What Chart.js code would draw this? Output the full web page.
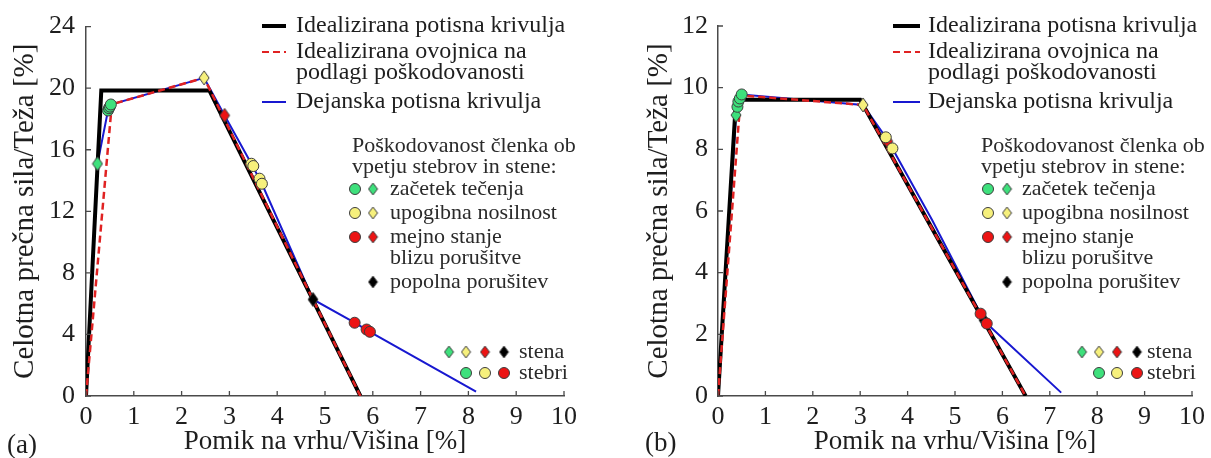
<!DOCTYPE html>
<html lang="sl">
<head>
<meta charset="utf-8">
<title>Potisne krivulje</title>
<script src="https://cdn.jsdelivr.net/npm/chart.js@4.4.1/dist/chart.umd.min.js"></script>
<style>
  html, body { margin: 0; padding: 0; background: #fff; font-family: "Liberation Serif"; }
  #wrap { display: flex; width: 1211px; height: 458px; overflow: hidden; }
  canvas { display: block; }
</style>
</head>
<body>
<div id="wrap">
  <canvas id="grafA" width="605" height="458"></canvas>
  <canvas id="grafB" width="606" height="458"></canvas>
</div>
<script>
// tick labels
const xTicks = [0, 1, 2, 3, 4, 5, 6, 7, 8, 9, 10];
const yTicksA = [0, 4, 8, 12, 16, 20, 24];
const yTicksB = [0, 2, 4, 6, 8, 10, 12];

// (a) krivulje
const idealA_x = [0, 0.32, 2.58, 5.74];
const idealA_y = [0, 19.85, 19.85, 0];
const envA_x = [0, 0.54, 2.47, 5.74];
const envA_y = [0, 18.95, 20.67, 0];
const actualA_x = [0, 0.24, 0.46, 0.52, 2.47, 2.90, 3.46, 3.68, 4.75, 5.62, 5.94, 8.16];
const actualA_y = [0, 15.09, 18.55, 18.94, 20.67, 18.23, 15.09, 13.79, 6.27, 4.76, 4.17, 0.28];

// (a) poškodovanost členkov
const wallYieldA_x = [0.24], wallYieldA_y = [15.09];
const colYieldA_x = [0.46, 0.48, 0.50, 0.52], colYieldA_y = [18.55, 18.70, 18.80, 18.94];
const wallFlexA_x = [2.47], wallFlexA_y = [20.67];
const colFlexA_x = [3.46, 3.50, 3.63, 3.68], colFlexA_y = [15.09, 14.94, 14.12, 13.79];
const wallNCA_x = [2.90], wallNCA_y = [18.23];
const colNCA_x = [5.62, 5.87, 5.94], colNCA_y = [4.76, 4.32, 4.17];
const wallColA_x = [4.75], wallColA_y = [6.27];

// (b) krivulje
const idealB_x = [0, 0.38, 3.00, 6.49];
const idealB_y = [0, 9.61, 9.61, 0];
const envB_x = [0, 0.48, 3.06, 6.49];
const envB_y = [0, 9.75, 9.44, 0];
const actualB_x = [0, 0.38, 0.41, 0.43, 0.50, 3.06, 3.54, 3.68, 4.52, 5.54, 5.61, 5.67, 7.24];
const actualB_y = [0, 9.11, 9.38, 9.55, 9.78, 9.44, 8.39, 8.03, 5.70, 2.67, 2.46, 2.35, 0.11];

// (b) poškodovanost členkov
const wallYieldB_x = [0.38], wallYieldB_y = [9.11];
const colYieldB_x = [0.41, 0.43, 0.46, 0.50], colYieldB_y = [9.38, 9.55, 9.65, 9.78];
const wallFlexB_x = [3.06], wallFlexB_y = [9.44];
const colFlexB_x = [3.54, 3.68], colFlexB_y = [8.39, 8.03];
const wallNCB_x = [3.58], wallNCB_y = [8.26];
const colNCB_x = [5.54, 5.67], colNCB_y = [2.67, 2.35];
const wallColB_x = [5.61], wallColB_y = [2.46];

const SERIF = '"Liberation Serif"';
const TEXT = '#1e1e1e';
const AXIS = '#4a4a4a';
const GREEN = '#3ee07c';
const YELLOW = '#f6f07c';
const RED = '#ec1414';
const BLACK = '#000000';
const BLUE = '#1818d0';
const DASHRED = '#e02222';

const pts = (xs, ys) => xs.map((x, i) => ({ x: x, y: ys[i] }));

// diamond marker drawn once into a small canvas
function diamond(fill, w, h) {
  const c = document.createElement('canvas');
  c.width = w + 2;
  c.height = h + 2;
  const g = c.getContext('2d');
  g.beginPath();
  g.moveTo(c.width / 2, 1);
  g.lineTo(c.width - 1, c.height / 2);
  g.lineTo(c.width / 2, c.height - 1);
  g.lineTo(1, c.height / 2);
  g.closePath();
  g.fillStyle = fill;
  g.fill();
  g.lineWidth = 1;
  g.strokeStyle = '#3a3a3a';
  g.stroke();
  return c;
}

const dia = {
  green: diamond(GREEN, 10, 14), yellow: diamond(YELLOW, 10, 14),
  red: diamond(RED, 10, 14), black: diamond(BLACK, 10, 14)
};
const diaKey = {
  green: diamond(GREEN, 9, 12), yellow: diamond(YELLOW, 9, 12),
  red: diamond(RED, 9, 12), black: diamond(BLACK, 9, 12)
};

function lineDs(xs, ys, color, width, dash, order) {
  return {
    data: pts(xs, ys), showLine: true, fill: false, tension: 0,
    borderColor: color, borderWidth: width, borderDash: dash,
    pointRadius: 0, order: order
  };
}

function circleDs(xs, ys, fill) {
  return {
    data: pts(xs, ys), showLine: false, pointStyle: 'circle',
    pointRadius: 5.5, pointBorderWidth: 1, pointBorderColor: '#3c3c3c',
    pointBackgroundColor: fill, order: 0
  };
}

function diamondDs(xs, ys, img) {
  return { data: pts(xs, ys), showLine: false, pointStyle: img, pointRadius: 6, order: 0 };
}

function keyCircle(ctx, x, y, fill) {
  ctx.beginPath();
  ctx.arc(x, y, 5.5, 0, Math.PI * 2);
  ctx.fillStyle = fill;
  ctx.fill();
  ctx.lineWidth = 1;
  ctx.strokeStyle = '#3c3c3c';
  ctx.stroke();
}

function keyDiamond(ctx, x, y, img) {
  ctx.drawImage(img, x - img.width / 2, y - img.height / 2);
}

// tick marks pointing into the plot, panel letter and the legends
function makeOverlay(cfg) {
  return {
    id: 'overlay',
    afterDraw(chart) {
      const ctx = chart.ctx;
      const area = chart.chartArea;
      const sx = chart.scales.x, sy = chart.scales.y;
      ctx.save();

      ctx.strokeStyle = AXIS;
      ctx.lineWidth = 1.3;
      ctx.beginPath();
      sx.ticks.forEach(t => {
        const px = sx.getPixelForValue(t.value);
        ctx.moveTo(px, area.bottom);
        ctx.lineTo(px, area.bottom - 5);
      });
      sy.ticks.forEach(t => {
        const py = sy.getPixelForValue(t.value);
        ctx.moveTo(area.left, py);
        ctx.lineTo(area.left + 5, py);
      });
      ctx.stroke();

      ctx.textBaseline = 'middle';
      ctx.textAlign = 'left';
      ctx.fillStyle = TEXT;
      ctx.font = '27px ' + SERIF;
      ctx.fillText(cfg.letter, cfg.letterX, cfg.letterY);

      // krivulje
      const L = cfg.lines;
      const ly = [26, 52, 73, 102];
      ctx.font = '24px ' + SERIF;
      ctx.fillText('Idealizirana potisna krivulja', L.textX, ly[0]);
      ctx.fillText('Idealizirana ovojnica na', L.textX, ly[1]);
      ctx.fillText('podlagi poškodovanosti', L.textX, ly[2]);
      ctx.fillText('Dejanska potisna krivulja', L.textX, ly[3]);
      const sample = (y, color, w, dash) => {
        ctx.beginPath();
        ctx.setLineDash(dash);
        ctx.strokeStyle = color;
        ctx.lineWidth = w;
        ctx.moveTo(L.x1, y);
        ctx.lineTo(L.x2, y);
        ctx.stroke();
        ctx.setLineDash([]);
      };
      sample(ly[0], BLACK, 4, []);
      sample(ly[1], DASHRED, 2, [7, 4]);
      sample(ly[3], BLUE, 2, []);

      // poškodovanost
      const D = cfg.damage;
      const dy = [146, 167, 189, 213, 237, 258, 282];
      ctx.fillStyle = '#2a2a2a';
      ctx.font = '22px ' + SERIF;
      ctx.fillText('Poškodovanost členka ob', D.titleX, dy[0]);
      ctx.fillText('vpetju stebrov in stene:', D.titleX, dy[1]);
      ctx.fillText('začetek tečenja', D.textX, dy[2]);
      ctx.fillText('upogibna nosilnost', D.textX, dy[3]);
      ctx.fillText('mejno stanje', D.textX, dy[4]);
      ctx.fillText('blizu porušitve', D.textX, dy[5]);
      ctx.fillText('popolna porušitev', D.textX, dy[6]);
      keyCircle(ctx, D.circleX, dy[2], GREEN);
      keyDiamond(ctx, D.diamondX, dy[2], diaKey.green);
      keyCircle(ctx, D.circleX, dy[3], YELLOW);
      keyDiamond(ctx, D.diamondX, dy[3], diaKey.yellow);
      keyCircle(ctx, D.circleX, dy[4], RED);
      keyDiamond(ctx, D.diamondX, dy[4], diaKey.red);
      keyDiamond(ctx, D.diamondX, dy[6], diaKey.black);

      // stena / stebri
      const K = cfg.key;
      const ky = [352, 373];
      ctx.fillStyle = '#2a2a2a';
      ctx.fillText('stena', K.textX, ky[0]);
      ctx.fillText('stebri', K.textX, ky[1]);
      [diaKey.green, diaKey.yellow, diaKey.red, diaKey.black].forEach((img, i) => keyDiamond(ctx, K.dx[i], ky[0], img));
      [GREEN, YELLOW, RED].forEach((c, i) => keyCircle(ctx, K.dx[i + 1], ky[1], c));

      ctx.restore();
    }
  };
}

function buildChart(id, cfg) {
  const tickFont = { family: SERIF, size: 26 };
  return new Chart(document.getElementById(id), {
    type: 'scatter',
    data: { datasets: cfg.datasets },
    options: {
      responsive: false,
      animation: false,
      events: [],
      layout: { padding: { top: 26, right: cfg.padRight, bottom: 0, left: 0 } },
      plugins: { legend: { display: false }, tooltip: { enabled: false } },
      scales: {
        x: {
          type: 'linear', min: 0, max: 10,
          afterBuildTicks: s => { s.ticks = xTicks.map(v => ({ value: v })); },
          afterFit: s => { s.height = 62; },
          grid: { display: false, drawTicks: false },
          border: { display: true, color: AXIS, width: 1.5 },
          ticks: { color: TEXT, font: tickFont, padding: 6, maxRotation: 0, autoSkip: false },
          title: {
            display: true, text: 'Pomik na vrhu/Višina [%]', color: TEXT,
            font: { family: SERIF, size: 27 }, padding: { top: 0, bottom: 0 }
          }
        },
        y: {
          type: 'linear', min: 0, max: cfg.yMax,
          afterBuildTicks: s => { s.ticks = cfg.yTicks.map(v => ({ value: v })); },
          afterFit: s => { s.width = cfg.yWidth; },
          grid: { display: false, drawTicks: false },
          border: { display: true, color: AXIS, width: 1.5 },
          ticks: { color: TEXT, font: tickFont, padding: cfg.yPad },
          title: {
            display: true, text: 'Celotna prečna sila/Teža [%]', color: TEXT,
            font: { family: SERIF, size: 29 }, padding: { top: cfg.yTitlePad, bottom: 0 }
          }
        }
      }
    },
    plugins: [makeOverlay(cfg)]
  });
}

Chart.defaults.font.family = SERIF;

buildChart('grafA', {
  yMax: 24, yTicks: yTicksA, yWidth: 86, yPad: 11, yTitlePad: 8, padRight: 41,
  letter: '(a)', letterX: 7, letterY: 446,
  lines: { x1: 262, x2: 286, textX: 296 },
  damage: { titleX: 352, circleX: 355, diamondX: 373, textX: 390 },
  key: { dx: [449, 466, 485, 504], textX: 519 },
  datasets: [
    circleDs(colYieldA_x, colYieldA_y, GREEN),
    circleDs(colFlexA_x, colFlexA_y, YELLOW),
    circleDs(colNCA_x, colNCA_y, RED),
    diamondDs(wallYieldA_x, wallYieldA_y, dia.green),
    diamondDs(wallFlexA_x, wallFlexA_y, dia.yellow),
    diamondDs(wallNCA_x, wallNCA_y, dia.red),
    diamondDs(wallColA_x, wallColA_y, dia.black),
    lineDs(envA_x, envA_y, DASHRED, 2.5, [7, 4], 1),
    lineDs(idealA_x, idealA_y, BLACK, 4, [], 2),
    lineDs(actualA_x, actualA_y, BLUE, 2, [], 3)
  ]
});

buildChart('grafB', {
  yMax: 12, yTicks: yTicksB, yWidth: 113, yPad: 10, yTitlePad: 37, padRight: 14,
  letter: '(b)', letterX: 40, letterY: 444,
  lines: { x1: 288, x2: 315, textX: 323 },
  damage: { titleX: 376, circleX: 383, diamondX: 402, textX: 417 },
  key: { dx: [477, 494, 512, 532], textX: 542 },
  datasets: [
    circleDs(colYieldB_x, colYieldB_y, GREEN),
    circleDs(colFlexB_x, colFlexB_y, YELLOW),
    circleDs(colNCB_x, colNCB_y, RED),
    diamondDs(wallYieldB_x, wallYieldB_y, dia.green),
    diamondDs(wallFlexB_x, wallFlexB_y, dia.yellow),
    diamondDs(wallNCB_x, wallNCB_y, dia.red),
    diamondDs(wallColB_x, wallColB_y, dia.black),
    lineDs(envB_x, envB_y, DASHRED, 2.5, [7, 4], 1),
    lineDs(idealB_x, idealB_y, BLACK, 4, [], 2),
    lineDs(actualB_x, actualB_y, BLUE, 2, [], 3)
  ]
});
</script>
</body>
</html>
